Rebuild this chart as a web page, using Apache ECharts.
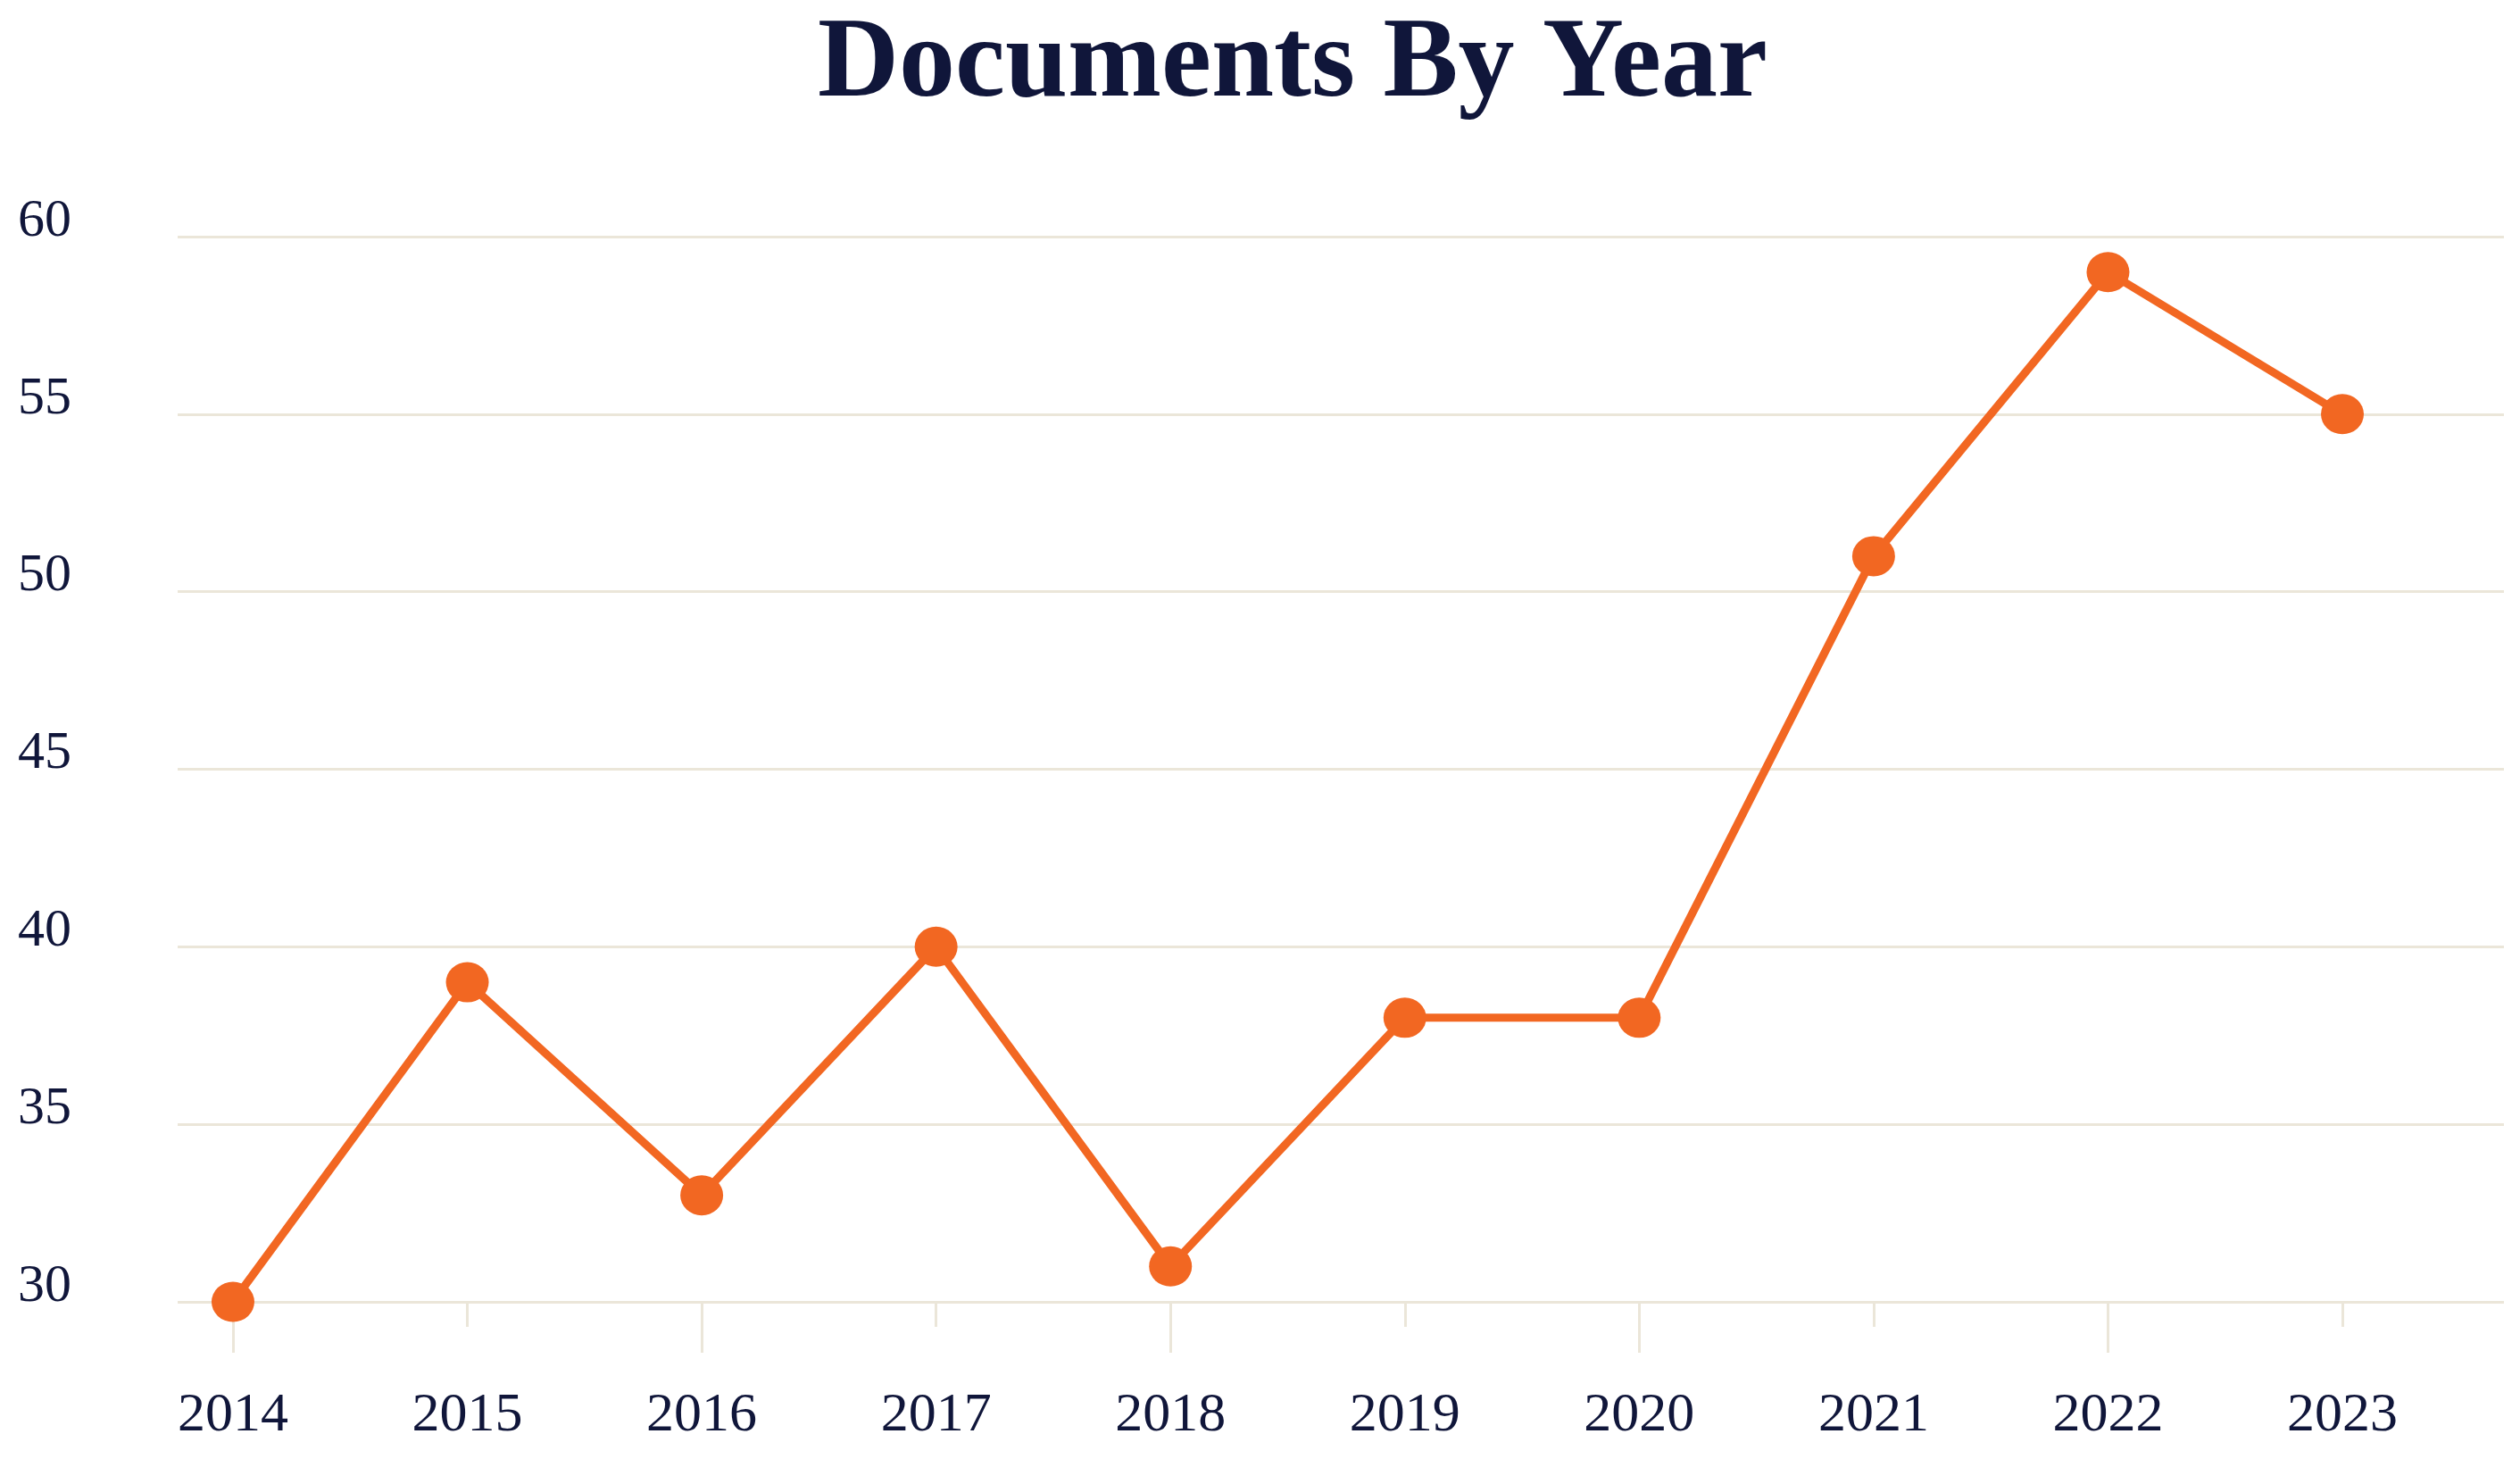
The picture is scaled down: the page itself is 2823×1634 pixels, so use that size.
<!DOCTYPE html>
<html>
<head>
<meta charset="utf-8">
<script src="https://cdn.jsdelivr.net/npm/echarts@6/dist/echarts.min.js"></script>
<style>
  html, body { margin: 0; padding: 0; background: #ffffff; }
  #chart { width: 2823px; height: 1634px; }
</style>
</head>
<body>
<div id="chart"></div>
<script>
// ---- data ----
const titleText = 'Documents By Year';
const years = [2014, 2015, 2016, 2017, 2018, 2019, 2020, 2021, 2022, 2023];
const documents = [30, 39, 33, 40, 31, 38, 38, 51, 59, 55];
const yTicks = [30, 35, 40, 45, 50, 55, 60];

// ---- styling ----
const NAVY = '#10163a';
const ORANGE = '#f26722';
const GRID = '#ebe6d9';
const FONT = '"Liberation Serif", "Times New Roman", serif';

const yearLabels = years.map(String);

const chart = echarts.init(document.getElementById('chart'), null, { renderer: 'canvas' });
chart.setOption({
  backgroundColor: '#ffffff',
  animation: false,
  title: {
    text: titleText,
    left: 911,
    top: 6,
    textStyle: { fontFamily: FONT, fontWeight: 'bold', fontSize: 126, color: NAVY }
  },
  grid: [
    // grid holding the horizontal gridlines (wider than the plotted years)
    { left: 199, right: 18, top: 265, bottom: 176, containLabel: false },
    // grid holding the year categories and the line
    { left: 129.7, right: 67.7, top: 265, bottom: 176, containLabel: false }
  ],
  xAxis: [
    { type: 'value', gridIndex: 0, show: false },
    {
      type: 'category',
      gridIndex: 1,
      position: 'bottom',
      offset: 0,
      data: yearLabels,
      boundaryGap: true,
      axisLine: { show: false },
      splitLine: { show: false },
      axisTick: {
        show: true,
        alignWithLabel: true,
        interval: (i) => i % 2 === 0,
        length: 57,
        lineStyle: { color: GRID, width: 3 }
      },
      axisLabel: {
        interval: 0,
        margin: 97,
        fontFamily: FONT,
        fontSize: 62,
        color: NAVY
      }
    },
    {
      type: 'category',
      gridIndex: 1,
      position: 'bottom',
      offset: 0,
      data: yearLabels,
      boundaryGap: true,
      axisLine: { show: false },
      splitLine: { show: false },
      axisTick: {
        show: true,
        alignWithLabel: true,
        interval: (i) => i % 2 === 1,
        length: 28,
        lineStyle: { color: GRID, width: 3 }
      },
      axisLabel: { show: false }
    }
  ],
  yAxis: [
    {
      type: 'value',
      gridIndex: 0,
      min: yTicks[0],
      max: yTicks[yTicks.length - 1],
      interval: 5,
      axisLine: { show: false },
      axisTick: { show: false },
      splitLine: { show: true, lineStyle: { color: GRID, width: 3 } },
      axisLabel: {
        margin: 119,
        fontFamily: FONT,
        fontSize: 60,
        color: NAVY,
        verticalAlign: 'bottom',
        lineHeight: 34
      }
    },
    {
      type: 'value',
      gridIndex: 1,
      min: yTicks[0],
      max: yTicks[yTicks.length - 1],
      interval: 5,
      show: false,
      splitLine: { show: false }
    }
  ],
  series: [{
    type: 'line',
    xAxisIndex: 1,
    yAxisIndex: 1,
    data: documents,
    symbol: 'circle',
    symbolSize: [48, 45],
    showSymbol: true,
    lineStyle: { color: ORANGE, width: 9 },
    itemStyle: { color: ORANGE },
    z: 5
  }]
});
</script>
</body>
</html>
